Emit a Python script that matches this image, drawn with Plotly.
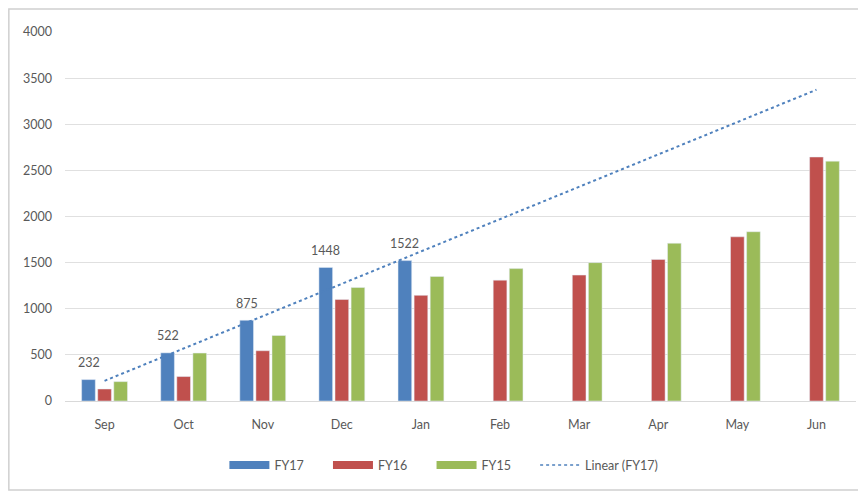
import numpy as np
import plotly.graph_objects as go

months = ["Sep", "Oct", "Nov", "Dec", "Jan", "Feb", "Mar", "Apr", "May", "Jun"]
fy17 = [232, 522, 875, 1448, 1522, None, None, None, None, None]
fy16 = [130, 265, 545, 1100, 1145, 1310, 1365, 1535, 1780, 2645]
fy15 = [210, 520, 710, 1230, 1350, 1435, 1500, 1710, 1835, 2600]
y_ticks = [0, 500, 1000, 1500, 2000, 2500, 3000, 3500, 4000]

BLUE = "#4F81BD"
RED = "#C0504D"
GREEN = "#9BBB59"
TXT = "#595959"
FONT = "Lato, Open Sans, sans-serif"
PAD = "\u00a0" * 6

# Linear trendline of FY17 (least squares over the known months, extended to all months)
known = [(i + 1, v) for i, v in enumerate(fy17) if v is not None]
kx = np.array([k[0] for k in known], dtype=float)
ky = np.array([k[1] for k in known], dtype=float)
slope, intercept = np.polyfit(kx, ky, 1)
trend = [slope * (i + 1) + intercept for i in range(len(months))]

fig = go.Figure()
fig.add_bar(x=months, y=fy17, name="FY17", marker_color=BLUE, showlegend=False)
fig.add_bar(x=months, y=fy16, name="FY16", marker_color=RED, showlegend=False)
fig.add_bar(x=months, y=fy15, name="FY15", marker_color=GREEN, showlegend=False)
fig.add_scatter(x=months, y=trend, mode="lines", name="Linear (FY17)",
                line=dict(color=BLUE, width=2, dash="dot"), showlegend=False)

# legend entries (wide swatches like the original)
for name, col in [("FY17", BLUE), ("FY16", RED), ("FY15", GREEN)]:
    fig.add_scatter(x=[None], y=[None], mode="lines", name=name + PAD,
                    line=dict(color=col, width=8))
fig.add_scatter(x=[None], y=[None], mode="lines", name="Linear (FY17)",
                line=dict(color=BLUE, width=1.5, dash="dot"))

# data labels for FY17
for m, v in zip(months, fy17):
    if v is not None:
        fig.add_annotation(x=m, y=v, text=str(v), showarrow=False,
                           xshift=-16, yshift=17,
                           font=dict(family=FONT, size=12.5, color=TXT))

fig.update_layout(
    width=858, height=484,
    margin=dict(l=57, r=10, t=24, b=91),
    paper_bgcolor="white", plot_bgcolor="white",
    barmode="group", bargap=0.39, bargroupgap=0.15,
    font=dict(family=FONT, size=12.5, color=TXT),
    legend=dict(orientation="h", x=0.479, xanchor="center", y=-0.1335, yanchor="top",
                font=dict(family=FONT, size=12.5, color=TXT), itemwidth=40,
                traceorder="normal"),
    shapes=[dict(type="rect", xref="paper", yref="paper",
                 x0=-0.071, x1=1.0076, y0=-0.241, y1=1.062,
                 line=dict(color="#D0D0D0", width=1.5), fillcolor="rgba(0,0,0,0)")],
)
fig.update_xaxes(showgrid=False, showline=True, linecolor="#D9D9D9", linewidth=1,
                 ticks="", ticklabelstandoff=12, tickfont=dict(size=12.5, color=TXT))
fig.update_yaxes(range=[0, 4000], tickvals=y_ticks, showgrid=True, gridcolor="#E0E0E0",
                 gridwidth=1, zeroline=False, showline=False, ticks="",
                 ticklabelstandoff=12, tickfont=dict(size=12.5, color=TXT))

fig.write_html("out.html")
